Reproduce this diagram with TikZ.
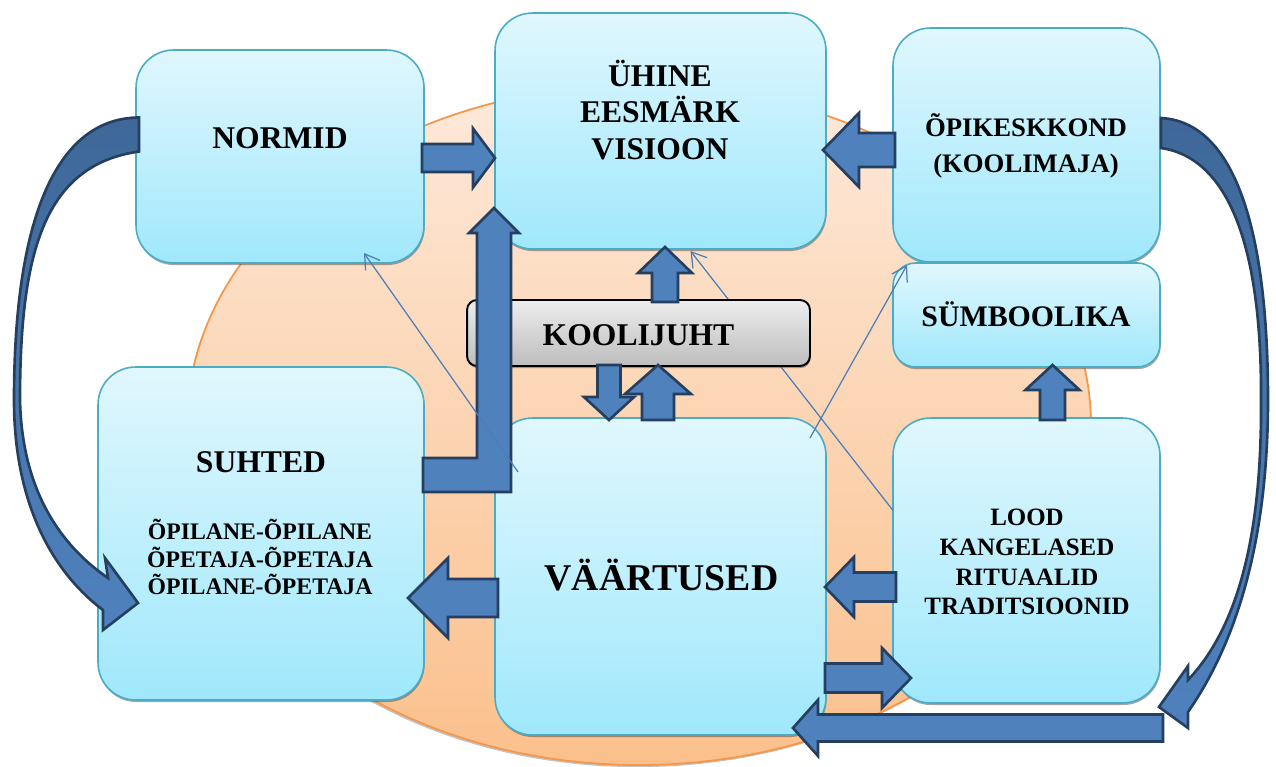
\documentclass[tikz,border=0pt]{standalone}
\usepackage{fontspec}
\setmainfont{Liberation Serif}
\usetikzlibrary{arrows.meta, calc, shadows, positioning}

\definecolor{boxtop}{HTML}{E0F7FD}
\definecolor{boxbot}{HTML}{A0E8FC}
\definecolor{boxline}{HTML}{4BACC6}
\definecolor{halotop}{HTML}{FDE9DA}
\definecolor{halobot}{HTML}{FBC08C}
\definecolor{haloline}{HTML}{F79646}
\definecolor{arrfill}{HTML}{4F81BD}
\definecolor{arrdark}{HTML}{3F6899}
\definecolor{arrline}{HTML}{243F60}
\definecolor{thinline}{HTML}{4A7EBB}
\definecolor{juhttop}{HTML}{EDEDED}
\definecolor{juhtbot}{HTML}{BDBDBD}

\newcommand{\fatarrow}[5]{
	\coordinate (fa-s) at (#1);
	\coordinate (fa-t) at (#2);
	\coordinate (fa-h) at ($(fa-t)!#5!(fa-s)$);
	\filldraw[fat] ($(fa-s)!#3!90:(fa-t)$) -- ($(fa-h)!#3!90:(fa-t)$) -- ($(fa-h)!#4!90:(fa-t)$) -- (fa-t)
		-- ($(fa-h)!#4!-90:(fa-t)$) -- ($(fa-h)!#3!-90:(fa-t)$) -- ($(fa-s)!#3!-90:(fa-t)$) -- cycle;
}

\begin{document}
\begin{tikzpicture}[x=0.02cm, y=-0.02cm,
	box/.style={rectangle, rounded corners=#1, draw=boxline, line width=0.9pt, top color=boxtop, bottom color=boxbot,
		inner sep=0pt, outer sep=0pt, drop shadow={shadow xshift=0.4pt, shadow yshift=-1.2pt, opacity=0.5, fill=black!70}},
	box/.default=0.75cm,
	juht/.style={rectangle, rounded corners=0.2cm, draw=black, line width=1.1pt, top color=juhttop, bottom color=juhtbot,
		inner sep=0pt, outer sep=0pt, drop shadow={shadow xshift=0.4pt, shadow yshift=-1.2pt, opacity=0.5, fill=black!70}},
	halo/.style={draw=haloline, line width=1pt, top color=halotop, bottom color=halobot,
		drop shadow={shadow xshift=-0.8pt, shadow yshift=-1.2pt, opacity=0.4, fill=black!60}},
	lbl/.style 2 args={font=\fontsize{#1}{#2}\selectfont\bfseries, align=center, inner sep=0pt},
	fat/.style={draw=arrline, fill=arrfill, line width=1.5pt, line join=miter},
	curvearr/.style={draw=arrline, top color=arrdark, bottom color=arrfill, line width=1.5pt, line join=miter},
	thinarr/.style={draw=thinline, line width=0.7pt, -{Straight Barb[length=8pt,width=10pt]}}]
	\useasboundingbox (0,0) rectangle (1276,767);

	\draw[halo] (639,425) ellipse [x radius=452, y radius=340];

	\node[box, minimum width=5.76cm, minimum height=4.26cm] (normid) at (280,156.5) {};
	\node[box, minimum width=6.62cm, minimum height=4.72cm] (eesmark) at (660.5,131) {};
	\node[box, minimum width=5.34cm, minimum height=4.68cm] (opik) at (1026.5,145) {};
	\node[box=0.45cm, minimum width=5.34cm, minimum height=2.08cm] (symb) at (1026.5,315) {};
	\node[box, minimum width=6.52cm, minimum height=6.66cm] (suhted) at (261,533.5) {};
	\node[box, minimum width=6.62cm, minimum height=6.34cm] (vaart) at (660.5,576.5) {};
	\node[box, minimum width=5.34cm, minimum height=5.70cm] (lood) at (1026.5,560.5) {};

	\node[lbl={18}{21}] (normid-t) at (280,138.5) {NORMID};
	\node[lbl={18}{21}] (eesmark-t) at (660,110) {ÜHINE\\EESMÄRK\\VISIOON};
	\node[lbl={15.2}{20.5}] (opik-t) at (1026,146) {ÕPIKESKKOND\\(KOOLIMAJA)};
	\node[lbl={17}{20}] (symb-t) at (1026,314.5) {SÜMBOOLIKA};
	\node[lbl={18}{21}] (suhted-t) at (261,462.5) {SUHTED};
	\node[lbl={13.5}{15.6}] (suhted-l) at (260,557) {ÕPILANE-ÕPILANE\\ÕPETAJA-ÕPETAJA\\ÕPILANE-ÕPETAJA};
	\node[lbl={21.5}{24}] (vaart-t) at (661.5,575) {VÄÄRTUSED};
	\node[lbl={14.2}{17}] (lood-t) at (1027,562) {LOOD\\KANGELASED\\RITUAALID\\TRADITSIOONID};

	\draw[thinarr] ($(lood.west)+(0,-50)$) -- ($(eesmark.south)+(30,2)$);

	\node[juht, minimum width=6.86cm, minimum height=1.32cm] (juht) at (638.5,333) {};
	\node[lbl={18}{21}] (juht-t) at (638.5,335.5) {KOOLIJUHT};

	\coordinate (l-foot) at ($(suhted.east)+(-1,-58.5)$);
	\coordinate (l-tip) at ($(eesmark.south west)+(-1,-41)$);
	\filldraw[fat] ($(l-foot)+(0,-17)$) -- ($(l-tip |- l-foot)+(-17,-17)$) -- ($(l-tip)+(-17,25)$) -- ($(l-tip)+(-25,25)$)
		-- (l-tip) -- ($(l-tip)+(25,25)$) -- ($(l-tip)+(17,25)$) -- ($(l-tip |- l-foot)+(17,17)$) -- ($(l-foot)+(0,17)$) -- cycle;

	\draw[thinarr] ($(vaart.north west)+(23,54)$) -- ($(normid.south)+(84,-10)$);
	\draw[thinarr] ($(vaart.north east)+(-16,20)$) -- ($(symb.north west)+(14,2)$);

	\fatarrow{$(normid.east)+(-2,1.5)$}{$(eesmark.west)+(0,27)$}{0.28cm}{0.59cm}{0.44cm}
	\fatarrow{$(opik.west)+(2,5)$}{$(eesmark.east)+(-3,19)$}{0.34cm}{0.74cm}{0.72cm}
	\fatarrow{$(juht.north)+(26.5,2)$}{$(eesmark.south)+(4.5,-2)$}{0.26cm}{0.54cm}{0.52cm}
	\fatarrow{$(juht.south)+(-29.5,-1)$}{$(vaart.north)+(-51.5,2)$}{0.23cm}{0.5cm}{0.46cm}
	\fatarrow{$(vaart.north)+(-2.5,2)$}{$(juht.south)+(19.5,-1)$}{0.32cm}{0.66cm}{0.58cm}
	\fatarrow{$(lood.north)+(26,2)$}{$(symb.south)+(26,-2)$}{0.25cm}{0.54cm}{0.5cm}
	\fatarrow{$(vaart.west)+(3,21.5)$}{$(suhted.east)+(-16,64.5)$}{0.38cm}{0.8cm}{0.8cm}
	\fatarrow{$(lood.west)+(3,26.5)$}{$(vaart.east)+(-1,10.5)$}{0.29cm}{0.6cm}{0.58cm}
	\fatarrow{$(vaart.east)+(-1,101.5)$}{$(lood.west)+(18,117.5)$}{0.29cm}{0.6cm}{0.58cm}
	\fatarrow{$(lood.south east)+(3,25)$}{$(vaart.south east)+(-33,-7)$}{0.27cm}{0.56cm}{0.5cm}

	\coordinate (lc-a) at ($(normid.west)+(3,-39)$);
	\coordinate (lc-b) at ($(normid.west)+(3,-5)$);
	\coordinate (lc-tip) at ($(suhted.west)+(40,69.5)$);
	\filldraw[curvearr] (lc-a) .. controls (60,118) and (14,210) .. (14,400) .. controls (14,500) and (50,570) .. (103,610)
		-- (103,630) -- (lc-tip) -- (105,558) -- (108,578) .. controls (60,545) and (22,490) .. (20,400)
		.. controls (20,250) and (45,165) .. (lc-b) -- cycle;

	\coordinate (rc-a) at ($(opik.east)+(1,-27)$);
	\coordinate (rc-b) at ($(opik.east)+(1,3)$);
	\coordinate (rc-tip) at ($(lood.south east)+(-1,4)$);
	\filldraw[curvearr] (rc-a) .. controls (1235,122) and (1268,230) .. (1268,400) .. controls (1268,520) and (1245,630) .. (1188,712)
		-- (1188,728) -- (rc-tip) -- (1188,666) -- (1188,680) .. controls (1240,625) and (1262,530) .. (1261,400)
		.. controls (1262,250) and (1230,158) .. (rc-b) -- cycle;
\end{tikzpicture}
\end{document}
